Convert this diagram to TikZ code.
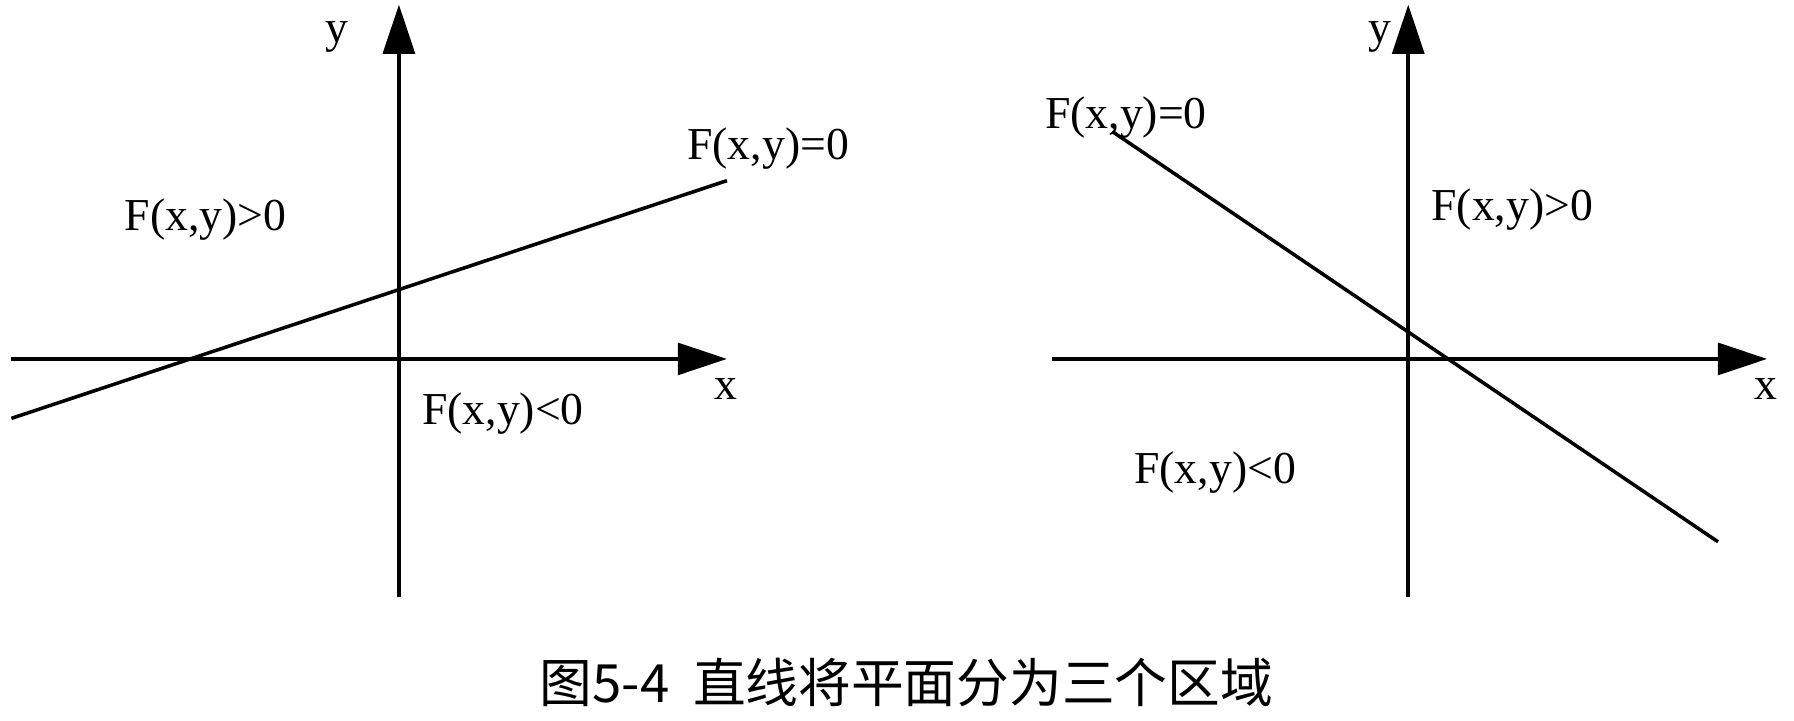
\documentclass[tikz,border=0pt]{standalone}
\usepackage{fontspec}
\setmainfont{Liberation Serif}
\newfontfamily\cjk{Noto Sans CJK SC}
\usetikzlibrary{arrows.meta}
\tikzset{
  axis/.style={line width=1.2pt,-{Triangle[length=14pt,width=9pt]}},
  lbl/.style={font=\fontsize{13}{13}\selectfont}
}
\begin{document}
\begin{tikzpicture}[x=0.011430cm,y=-0.011430cm]
\useasboundingbox (0,0) rectangle (1569.5,630);
% left plane
\coordinate (lxa) at (10,314);
\coordinate (lxb) at (636,314);
\coordinate (lya) at (349,522);
\coordinate (lyb) at (349,4);
\draw[axis] (lxa) -- (lxb);
\draw[axis] (lya) -- (lyb);
\coordinate (la) at (10,366);
\coordinate (lb) at (636,158);
\draw[line width=1pt] (la) -- (lb);
\node[lbl] (ly) at (295,32) {y};
\node[lbl] (lx) at (635,340) {x};
\node[lbl] (leq) at (672,130) {F(x,y)=0};
\node[lbl] (lgt) at (180,192) {F(x,y)>0};
\node[lbl] (llt) at (440,362) {F(x,y)<0};
% right plane
\coordinate (rxa) at (920,314);
\coordinate (rxb) at (1546,314);
\coordinate (rya) at (1232,522);
\coordinate (ryb) at (1232,4);
\draw[axis] (rxa) -- (rxb);
\draw[axis] (rya) -- (ryb);
\coordinate (ra) at (973,115);
\coordinate (rb) at (1503,474);
\draw[line width=1pt] (ra) -- (rb);
\node[lbl] (ry) at (1207,32) {y};
\node[lbl] (rx) at (1545,340) {x};
\node[lbl] (req) at (985,103) {F(x,y)=0};
\node[lbl] (rgt) at (1323,183) {F(x,y)>0};
\node[lbl] (rlt) at (1063,413) {F(x,y)<0};
% caption
\node[font=\fontsize{15}{15}\selectfont] (cap) at (793,597) {\cjk 图5-4\ \ 直线将平面分为三个区域};
\end{tikzpicture}
\end{document}
